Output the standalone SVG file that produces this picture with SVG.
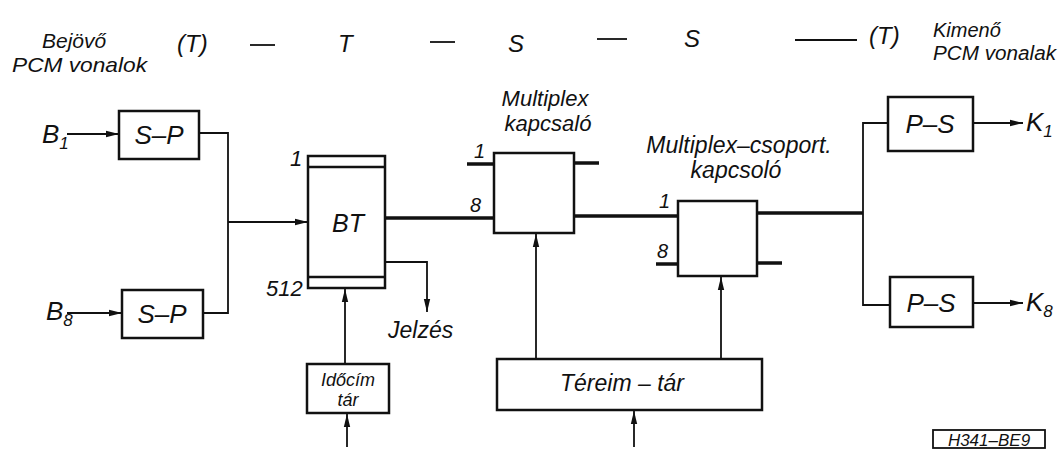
<svg xmlns="http://www.w3.org/2000/svg" width="1060" height="451" viewBox="0 0 1060 451">
<style>
text{font-family:"Liberation Sans",Arial,sans-serif;font-style:italic;fill:#111}
.lbl{font-size:21px}
.hdr{font-size:24px}
.box{font-size:26px}
.box rect, rect.b{fill:#fff;stroke:#111;stroke-width:2.5}
.thin{stroke:#111;stroke-width:1.8;fill:none}
.thick{stroke:#111;stroke-width:3.5;fill:none}
</style>
<defs>
<marker id="ah" markerUnits="userSpaceOnUse" markerWidth="14" markerHeight="8" refX="13" refY="4" orient="auto">
<path d="M0,0.8 L13,4 L0,7.2 z" fill="#111"/>
</marker>
</defs>
<rect width="1060" height="451" fill="#fff"/>

<g id="header">
<text class="lbl" x="42" y="48">Bejövő</text>
<text class="lbl" x="12" y="72" textLength="135" lengthAdjust="spacingAndGlyphs">PCM vonalok</text>
<text class="hdr" x="177" y="52">(T)</text>
<line class="thin" x1="250" y1="45" x2="275" y2="45"/>
<text class="hdr" x="338" y="52">T</text>
<line class="thin" x1="430" y1="42" x2="455" y2="42"/>
<text class="hdr" x="508" y="52">S</text>
<line class="thin" x1="597" y1="39" x2="627" y2="39"/>
<text class="hdr" x="684" y="47">S</text>
<line class="thin" x1="795" y1="40" x2="857" y2="40"/>
<text class="hdr" x="869" y="44">(T)</text>
<text class="lbl" x="933" y="37" style="font-size:20px">Kimenő</text>
<text class="lbl" x="933" y="60" style="font-size:20px" textLength="123" lengthAdjust="spacingAndGlyphs">PCM vonalak</text>
</g>

<g id="connectors">
<line class="thin" x1="67" y1="134" x2="119" y2="134" marker-end="url(#ah)"/>
<line class="thin" x1="67" y1="313" x2="122" y2="313" marker-end="url(#ah)"/>
<polyline class="thin" points="199,133 228,133 228,313 203,313"/>
<line class="thin" x1="228" y1="222" x2="308" y2="222" marker-end="url(#ah)"/>
<line class="thick" x1="385" y1="218" x2="494" y2="218"/>
<line class="thick" x1="467" y1="164" x2="494" y2="164"/>
<line class="thick" x1="574" y1="163" x2="599" y2="163"/>
<line class="thick" x1="574" y1="216" x2="678" y2="216"/>
<line class="thick" x1="656" y1="264" x2="678" y2="264"/>
<line class="thick" x1="757" y1="213" x2="863" y2="213"/>
<line class="thick" x1="757" y1="263" x2="782" y2="263"/>
<polyline class="thin" points="888,123 863,123 863,305 890,305"/>
<line class="thin" x1="973" y1="123" x2="1023" y2="123" marker-end="url(#ah)"/>
<line class="thin" x1="973" y1="303" x2="1023" y2="303" marker-end="url(#ah)"/>
<polyline class="thin" points="385,262 427,262 427,312" marker-end="url(#ah)"/>
<line class="thin" x1="345" y1="364" x2="345" y2="289" marker-end="url(#ah)"/>
<line class="thin" x1="347" y1="447" x2="347" y2="414" marker-end="url(#ah)"/>
<line class="thin" x1="536" y1="359" x2="536" y2="234" marker-end="url(#ah)"/>
<line class="thin" x1="721" y1="359" x2="721" y2="277" marker-end="url(#ah)"/>
<line class="thin" x1="634" y1="447" x2="634" y2="411" marker-end="url(#ah)"/>
</g>

<g id="B1"><text x="42" y="143" style="font-size:26px">B<tspan dy="6" style="font-size:17px">1</tspan></text></g>
<g id="B8"><text x="46" y="320" style="font-size:26px">B<tspan dy="6" style="font-size:17px">8</tspan></text></g>

<g id="sp1" class="box">
<rect x="119" y="111" width="80" height="48"/>
<text x="159" y="144" text-anchor="middle">S–P</text>
</g>
<g id="sp8" class="box">
<rect x="122" y="290" width="81" height="48"/>
<text x="162" y="323" text-anchor="middle">S–P</text>
</g>

<g id="bt" class="box">
<rect x="308" y="156" width="77" height="132"/>
<line class="thin" x1="308" y1="167" x2="385" y2="167" style="stroke-width:2.5"/>
<line class="thin" x1="308" y1="277" x2="385" y2="277" style="stroke-width:2.5"/>
<text x="348" y="232" text-anchor="middle" style="font-size:25px">BT</text>
<text x="290" y="166" style="font-size:22px">1</text>
<text x="266" y="296" style="font-size:22px">512</text>
</g>

<g id="jelzes"><text x="388" y="338" style="font-size:23px">Jelzés</text></g>

<g id="idocim" class="box">
<rect x="307" y="364" width="82" height="49"/>
<text x="348" y="386" text-anchor="middle" style="font-size:18px">Időcím</text>
<text x="348" y="406" text-anchor="middle" style="font-size:18px">tár</text>
</g>

<g id="mux" class="box">
<rect x="494" y="153" width="80" height="80"/>
<text x="545" y="106" text-anchor="middle" style="font-size:22px">Multiplex</text>
<text x="548" y="131" text-anchor="middle" style="font-size:22px">kapcsaló</text>
<text x="474" y="158" style="font-size:20px">1</text>
<text x="470" y="212" style="font-size:20px">8</text>
</g>

<g id="mcs" class="box">
<rect x="678" y="201" width="79" height="75"/>
<text x="739" y="153" text-anchor="middle" style="font-size:23px">Multiplex–csoport.</text>
<text x="736" y="178" text-anchor="middle" style="font-size:23px">kapcsoló</text>
<text x="659" y="208" style="font-size:20px">1</text>
<text x="657" y="258" style="font-size:20px">8</text>
</g>

<g id="tereim" class="box">
<rect x="497" y="359" width="265" height="51"/>
<text x="622" y="391" text-anchor="middle" style="font-size:23px">Téreim – tár</text>
</g>

<g id="ps1" class="box">
<rect x="888" y="97" width="85" height="54"/>
<text x="930" y="133" text-anchor="middle">P–S</text>
</g>
<g id="ps8" class="box">
<rect x="890" y="277" width="83" height="50"/>
<text x="931" y="312" text-anchor="middle">P–S</text>
</g>

<g id="K1"><text x="1026" y="131" style="font-size:26px">K<tspan dy="6" style="font-size:17px">1</tspan></text></g>
<g id="K8"><text x="1026" y="311" style="font-size:26px">K<tspan dy="6" style="font-size:17px">8</tspan></text></g>

<g id="ref">
<rect x="933" y="430" width="112" height="18" style="fill:#fff;stroke:#111;stroke-width:1.8"/>
<text x="989" y="446" text-anchor="middle" style="font-size:17px">H341–BE9</text>
</g>
</svg>
